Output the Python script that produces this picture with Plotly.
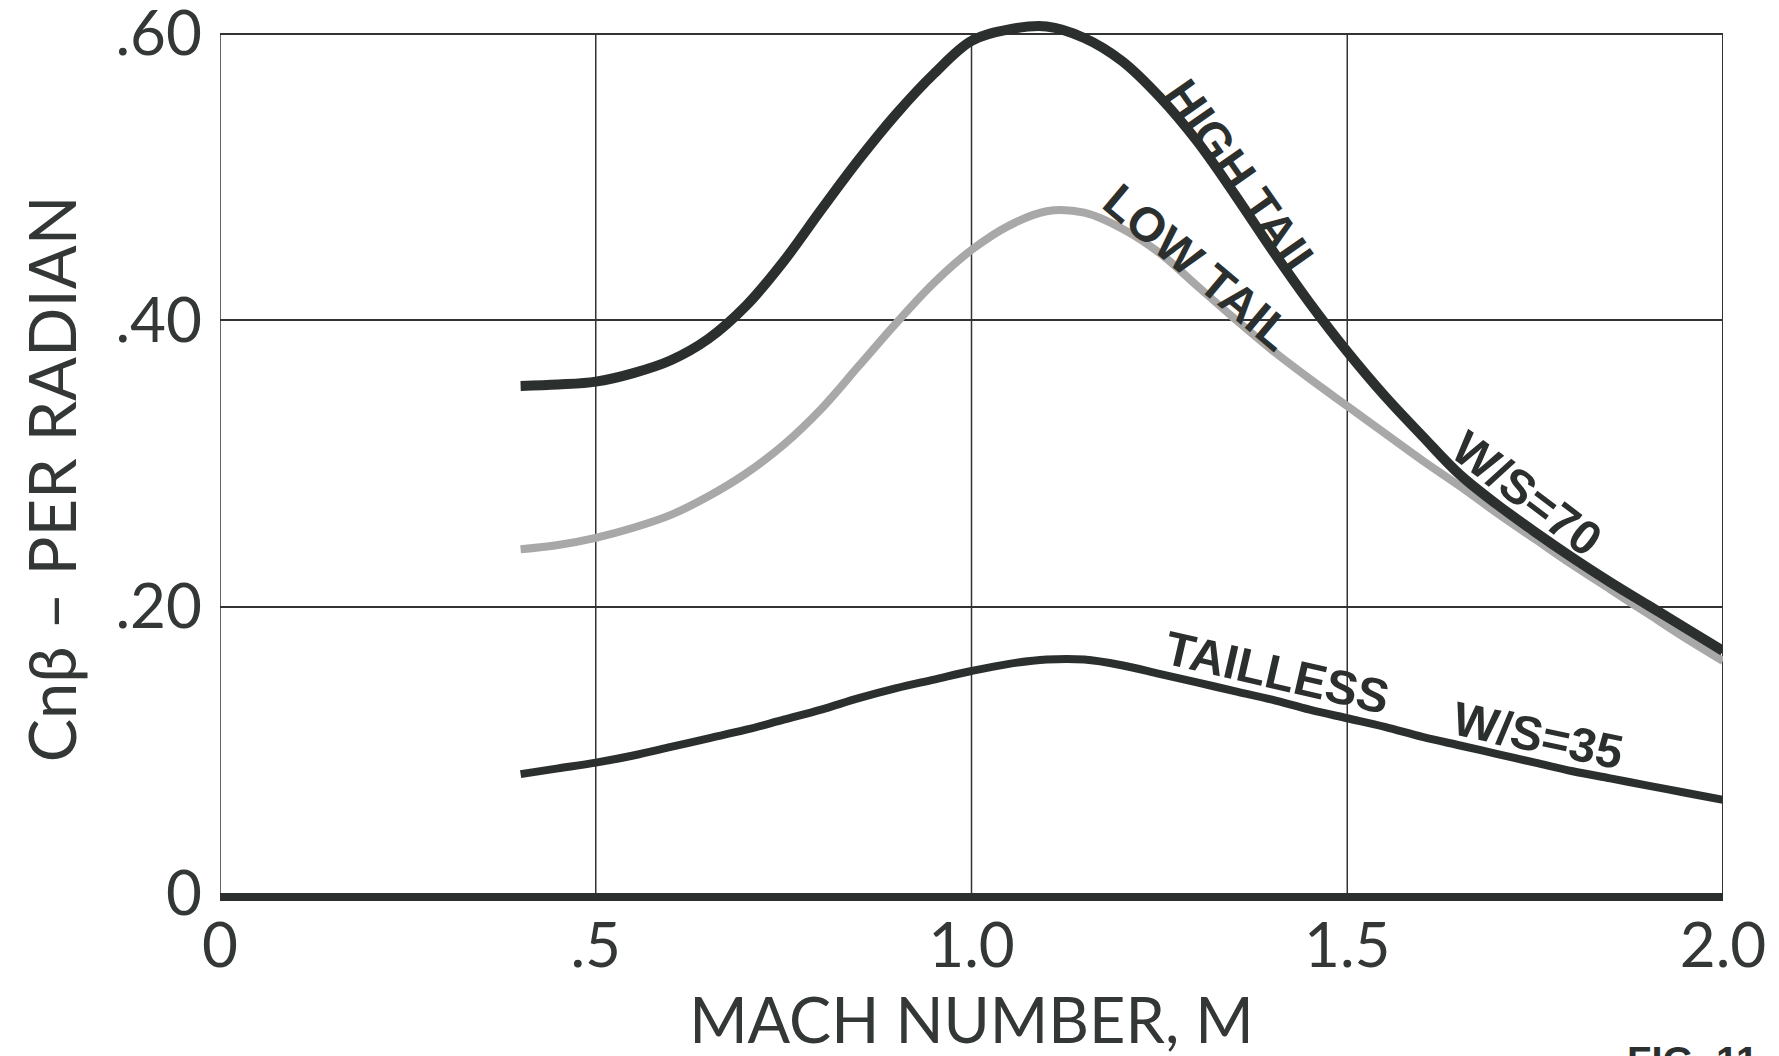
import plotly.graph_objects as go

# ---- data ----
mach = [0.40, 0.45, 0.50, 0.55, 0.60, 0.65, 0.70, 0.75, 0.80, 0.85, 0.90, 0.95, 1.00, 1.05, 1.10,
        1.15, 1.20, 1.25, 1.30, 1.35, 1.40, 1.45, 1.50, 1.55, 1.60, 1.65, 1.70, 1.75, 1.80, 1.85,
        1.90, 1.95, 2.00]
cn_high_tail = [0.354, 0.355, 0.357, 0.363, 0.372, 0.387, 0.410, 0.441, 0.477, 0.512, 0.544, 0.572,
                0.595, 0.603, 0.605, 0.597, 0.581, 0.556, 0.525, 0.488, 0.449, 0.412, 0.378, 0.347,
                0.319, 0.292, 0.271, 0.252, 0.234, 0.217, 0.201, 0.185, 0.169]
cn_low_tail = [0.240, 0.243, 0.248, 0.255, 0.264, 0.277, 0.293, 0.313, 0.338, 0.368, 0.398, 0.426,
               0.449, 0.466, 0.476, 0.475, 0.464, 0.447, 0.424, 0.401, 0.379, 0.359, 0.340, 0.321,
               0.302, 0.284, 0.265, 0.247, 0.229, 0.212, 0.195, 0.178, 0.162]
cn_tailless = [0.083, 0.087, 0.091, 0.096, 0.102, 0.108, 0.114, 0.121, 0.128, 0.136, 0.143, 0.149,
               0.155, 0.160, 0.163, 0.163, 0.159, 0.153, 0.147, 0.141, 0.135, 0.128, 0.122, 0.116,
               0.109, 0.103, 0.097, 0.091, 0.085, 0.080, 0.075, 0.070, 0.065]

x_tickvals = [0, 0.5, 1.0, 1.5, 2.0]
x_ticktext = ["0", ".5", "1.0", "1.5", "2.0"]
y_tickvals = [0, 0.2, 0.4, 0.6]
y_ticktext = ["0", ".20", ".40", ".60"]
x_grid = [0.5, 1.0, 1.5]

x_title = "MACH NUMBER, M"
y_title = "Cnβ – PER RADIAN"

curve_labels = ["HIGH TAIL", "LOW TAIL", "W/S=70", "TAILLESS", "W/S=35"]
label_x = [1.362, 1.302, 1.739, 1.406, 1.754]
label_y = [0.497, 0.437, 0.279, 0.154, 0.110]
label_angle = [55, 40, 37, 13, 12]

INK = "#2b302f"
GRAY = "#a8a8a8"
FONT = "Lato, Liberation Sans, sans-serif"
TEXT_COLOR = "#333735"
TICK_FONT = dict(family=FONT, size=62, color=TEXT_COLOR)
Y_TOP = 0.6

fig = go.Figure()
fig.add_trace(go.Scatter(x=mach, y=cn_low_tail, mode="lines", name="Low tail",
                         line=dict(color=GRAY, width=8, shape="spline", smoothing=1.0)))
fig.add_trace(go.Scatter(x=mach, y=cn_high_tail, mode="lines", name="High tail",
                         line=dict(color=INK, width=10, shape="spline", smoothing=1.0)))
fig.add_trace(go.Scatter(x=mach, y=cn_tailless, mode="lines", name="Tailless",
                         line=dict(color=INK, width=8, shape="spline", smoothing=1.0)))

for t, x, y, a in zip(curve_labels, label_x, label_y, label_angle):
    fig.add_annotation(x=x, y=y, xref="x", yref="y", text=t, showarrow=False, textangle=a,
                       font=dict(family="Liberation Sans, Arial, sans-serif", size=48, color=INK,
                                 weight="bold"))

# y-axis title (placed as in the original drawing, slightly below the axis centre)
fig.add_annotation(x=-0.1124, y=0.466, xref="paper", yref="paper", text=y_title, showarrow=False,
                   textangle=-90, xanchor="center", yanchor="middle",
                   font=dict(family=FONT, size=65, color=TEXT_COLOR))

# partially visible figure number at the bottom right (cut by the page edge as in the original)
fig.add_annotation(x=0.9348, y=-0.1622, xref="paper", yref="paper", xanchor="left", yanchor="top",
                   text="FIG. 11", showarrow=False,
                   font=dict(family="Liberation Sans, Arial, sans-serif", size=40, color=INK,
                             weight="bold"))

# vertical grid lines and the frame (limited to the 0 - .60 band)
for gx in x_grid:
    fig.add_shape(type="line", xref="x", yref="y", x0=gx, x1=gx, y0=0, y1=Y_TOP, layer="below",
                  line=dict(color="#333", width=1.5))
fig.add_shape(type="line", xref="x", yref="y", x0=2.0, x1=2.0, y0=0, y1=Y_TOP, layer="below",
              line=dict(color="#333", width=2))
fig.add_shape(type="line", xref="x", yref="y", x0=-0.005, x1=-0.005, y0=-0.003, y1=Y_TOP,
              line=dict(color=INK, width=9))

fig.update_xaxes(range=[0, 2.0], tickvals=x_tickvals, ticktext=x_ticktext,
                 showgrid=False, zeroline=False, automargin=False,
                 showline=True, linecolor=INK, linewidth=8, ticks="",
                 tickfont=TICK_FONT, ticklabelstandoff=-8, ticklabeloverflow="allow",
                 title=dict(text=x_title, standoff=44,
                            font=dict(family=FONT, size=63, color=TEXT_COLOR)))
fig.update_yaxes(range=[0, 0.62], tickvals=y_tickvals, ticktext=y_ticktext,
                 showgrid=True, gridcolor="#333", gridwidth=1.5, zeroline=False, automargin=False,
                 showline=False, ticks="",
                 tickfont=TICK_FONT, ticklabelstandoff=17, ticklabeloverflow="allow")

fig.update_layout(width=1779, height=1056, autosize=False,
                  margin=dict(l=220, r=56, t=5, b=163),
                  paper_bgcolor="white", plot_bgcolor="white", showlegend=False)

# remove the browser's default page margin so the figure sits at the window's top-left corner
fig.write_html("out.html", config={"displayModeBar": False},
               post_script="document.body.style.margin='0';document.body.style.overflow='hidden';")
